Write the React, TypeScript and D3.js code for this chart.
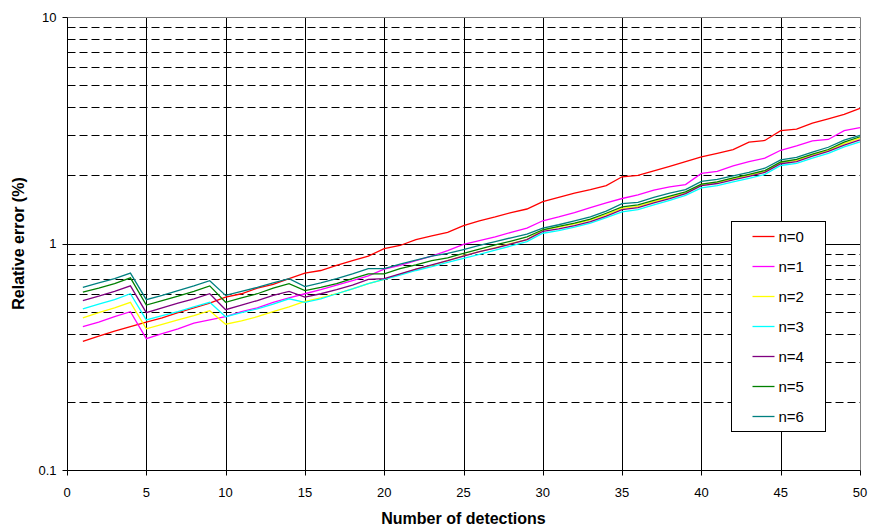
import React, { useRef, useEffect } from "react";
import * as d3 from "d3";

// number of detections on the x axis
const detections = [
  1, 2, 3, 4, 5, 6, 7, 8, 9, 10, 11, 12, 13, 14, 15, 16, 17, 18, 19, 20, 21, 22, 23, 24, 25,
  26, 27, 28, 29, 30, 31, 32, 33, 34, 35, 36, 37, 38, 39, 40, 41, 42, 43, 44, 45, 46, 47, 48, 49, 50,
];

const seriesNames = ["n=0", "n=1", "n=2", "n=3", "n=4", "n=5", "n=6"];
const seriesColors = ["#ff0000", "#ff00ff", "#ffff00", "#00ffff", "#800080", "#008000", "#008080"];

const n0 = [
  0.37, 0.39, 0.41, 0.43, 0.45, 0.47, 0.495, 0.52, 0.545, 0.58,
  0.6, 0.635, 0.66, 0.7, 0.74, 0.76, 0.8, 0.84, 0.88, 0.95,
  0.98, 1.04, 1.08, 1.12, 1.2, 1.26, 1.31, 1.37, 1.42, 1.53,
  1.6, 1.67, 1.73, 1.8, 1.97, 2.0, 2.09, 2.19, 2.3, 2.41,
  2.5, 2.6, 2.8, 2.85, 3.15, 3.2, 3.4, 3.55, 3.72, 3.95,
];
const n1 = [
  0.43, 0.45, 0.475, 0.5, 0.38, 0.4, 0.42, 0.445, 0.46, 0.475,
  0.5, 0.52, 0.55, 0.575, 0.6, 0.625, 0.655, 0.685, 0.72, 0.77,
  0.8, 0.84, 0.88, 0.93, 0.99, 1.03, 1.07, 1.12, 1.17, 1.26,
  1.31, 1.37, 1.44, 1.51, 1.58, 1.64, 1.72, 1.78, 1.82, 2.04,
  2.08, 2.2, 2.3, 2.38, 2.58, 2.7, 2.84, 2.88, 3.15, 3.25,
];
const n2 = [
  0.47, 0.495, 0.52, 0.55, 0.42, 0.44, 0.46, 0.48, 0.505, 0.44,
  0.455, 0.475, 0.5, 0.525, 0.555, 0.575, 0.6, 0.63, 0.665, 0.695,
  0.73, 0.77, 0.8, 0.84, 0.885, 0.92, 0.96, 1.0, 1.04, 1.15,
  1.18, 1.22, 1.27, 1.34, 1.43, 1.46, 1.53, 1.6, 1.67, 1.82,
  1.86, 1.93, 2.0, 2.08, 2.28, 2.33, 2.46, 2.58, 2.76, 2.92,
];
const n3 = [
  0.515, 0.54, 0.565, 0.6, 0.46, 0.48, 0.5, 0.525, 0.55, 0.475,
  0.495, 0.515, 0.54, 0.57, 0.55, 0.57, 0.6, 0.63, 0.665, 0.695,
  0.725, 0.76, 0.79, 0.825, 0.86, 0.895, 0.935, 0.975, 1.02, 1.11,
  1.14, 1.18, 1.23, 1.3, 1.38, 1.41, 1.48, 1.55, 1.63, 1.76,
  1.8, 1.87, 1.94, 2.02, 2.21, 2.26, 2.38, 2.5, 2.67, 2.81,
];
const n4 = [
  0.56, 0.585, 0.615, 0.65, 0.495, 0.52, 0.545, 0.57, 0.6, 0.51,
  0.535, 0.56, 0.59, 0.615, 0.58, 0.6, 0.625, 0.655, 0.695, 0.7,
  0.735, 0.77, 0.805, 0.84, 0.88, 0.92, 0.955, 0.995, 1.04, 1.13,
  1.16, 1.2, 1.25, 1.32, 1.41, 1.44, 1.51, 1.58, 1.66, 1.8,
  1.84, 1.91, 1.98, 2.06, 2.25, 2.3, 2.43, 2.55, 2.72, 2.87,
];
const n5 = [
  0.61, 0.635, 0.665, 0.705, 0.535, 0.56, 0.585, 0.615, 0.65, 0.55,
  0.575, 0.6, 0.635, 0.665, 0.62, 0.64, 0.665, 0.7, 0.735, 0.735,
  0.775, 0.805, 0.84, 0.865, 0.905, 0.945, 0.985, 1.025, 1.07, 1.15,
  1.19, 1.23, 1.28, 1.36, 1.45, 1.48, 1.55, 1.62, 1.69, 1.83,
  1.87, 1.95, 2.02, 2.1, 2.29, 2.35, 2.48, 2.6, 2.8, 2.96,
];
const n6 = [
  0.64, 0.67, 0.7, 0.74, 0.565, 0.59, 0.62, 0.65, 0.685, 0.59,
  0.615, 0.64, 0.67, 0.7, 0.645, 0.67, 0.7, 0.735, 0.775, 0.775,
  0.81, 0.845, 0.88, 0.905, 0.94, 0.98, 1.02, 1.06, 1.1, 1.17,
  1.21, 1.26, 1.31, 1.39, 1.5, 1.52, 1.6, 1.67, 1.73, 1.88,
  1.92, 1.99, 2.06, 2.15, 2.34, 2.4, 2.53, 2.66, 2.86, 3.0,
];
const seriesValues = [n0, n1, n2, n3, n4, n5, n6];

const xTicks = [0, 5, 10, 15, 20, 25, 30, 35, 40, 45, 50];
const yTicks = [0.1, 1, 10];
const yMinor = [0.2, 0.3, 0.4, 0.5, 0.6, 0.7, 0.8, 0.9, 2, 3, 4, 5, 6, 7, 8, 9];

const font = "'Liberation Sans', Arial, sans-serif";

export default function App() {
  const svgRef = useRef<SVGSVGElement>(null);

  useEffect(() => {
    const width = 871;
    const height = 529;
    const margin = { top: 17, right: 11, bottom: 59, left: 67 };

    const svg = d3.select(svgRef.current);
    svg.selectAll("*").remove();

    const x = d3.scaleLinear([0, 50], [margin.left, width - margin.right]);
    const y = d3.scaleLog([0.1, 10], [height - margin.bottom, margin.top]);
    const px = (v: number) => Math.round(v) + 0.5;

    const top = px(y(10));
    const bottom = px(y(0.1));
    const left = px(x(0));
    const right = px(x(50));

    // minor dashed gridlines
    svg.append("g")
      .selectAll("line")
      .data(yMinor)
      .join("line")
      .attr("x1", left)
      .attr("x2", right)
      .attr("y1", (d) => px(y(d)))
      .attr("y2", (d) => px(y(d)))
      .attr("stroke", "#000")
      .attr("stroke-dasharray", "8,4")
      .attr("stroke-width", 1);

    // vertical gridlines
    svg.append("g")
      .selectAll("line")
      .data(xTicks.filter((d) => d > 0 && d < 50))
      .join("line")
      .attr("x1", (d) => px(x(d)))
      .attr("x2", (d) => px(x(d)))
      .attr("y1", top)
      .attr("y2", bottom)
      .attr("stroke", "#000");

    // major gridline at 1
    svg.append("line")
      .attr("x1", left).attr("x2", right)
      .attr("y1", px(y(1))).attr("y2", px(y(1)))
      .attr("stroke", "#000");

    // plot border: top + right grey
    svg.append("path")
      .attr("d", `M${left},${top}H${right}V${bottom}`)
      .attr("fill", "none")
      .attr("stroke", "#808080");

    // axes
    svg.append("line")
      .attr("x1", left).attr("x2", left)
      .attr("y1", top).attr("y2", bottom)
      .attr("stroke", "#000");
    svg.append("line")
      .attr("x1", left).attr("x2", right)
      .attr("y1", bottom).attr("y2", bottom)
      .attr("stroke", "#000");

    // y ticks
    const yt = svg.append("g");
    yt.selectAll("line")
      .data(yTicks)
      .join("line")
      .attr("x1", left - 5).attr("x2", left)
      .attr("y1", (d) => px(y(d))).attr("y2", (d) => px(y(d)))
      .attr("stroke", "#000");
    yt.selectAll("text")
      .data(yTicks)
      .join("text")
      .attr("x", left - 11)
      .attr("y", (d) => y(d))
      .attr("dy", "0.35em")
      .attr("text-anchor", "end")
      .attr("font-family", font)
      .attr("font-size", 13)
      .text((d) => String(d));

    // x ticks
    const xt = svg.append("g");
    xt.selectAll("line")
      .data(xTicks)
      .join("line")
      .attr("x1", (d) => px(x(d))).attr("x2", (d) => px(x(d)))
      .attr("y1", bottom).attr("y2", bottom + 5)
      .attr("stroke", "#000");
    xt.selectAll("text")
      .data(xTicks)
      .join("text")
      .attr("x", (d) => x(d))
      .attr("y", bottom + 26)
      .attr("text-anchor", "middle")
      .attr("font-family", font)
      .attr("font-size", 13)
      .text((d) => String(d));

    // axis titles
    svg.append("text")
      .attr("x", (x(0) + x(50)) / 2)
      .attr("y", 524)
      .attr("text-anchor", "middle")
      .attr("font-family", font)
      .attr("font-size", 16)
      .attr("font-weight", "bold")
      .text("Number of detections");
    svg.append("text")
      .attr("transform", `translate(24,${y(1)}) rotate(-90)`)
      .attr("text-anchor", "middle")
      .attr("font-family", font)
      .attr("font-size", 16)
      .attr("font-weight", "bold")
      .text("Relative error (%)");

    // series lines
    const line = d3.line<number>()
      .x((_, i) => x(detections[i]))
      .y((d) => y(d));
    svg.append("g")
      .selectAll("path")
      .data(seriesValues)
      .join("path")
      .attr("d", (d) => line(d))
      .attr("fill", "none")
      .attr("stroke", (_, i) => seriesColors[i])
      .attr("stroke-width", 1.3);

    // legend
    const legend = svg.append("g").attr("transform", "translate(731.5,221.5)");
    legend.append("rect")
      .attr("width", 94)
      .attr("height", 210)
      .attr("fill", "#fff")
      .attr("stroke", "#000");
    const items = legend.selectAll("g.item")
      .data(seriesNames)
      .join("g")
      .attr("class", "item")
      .attr("transform", (_, i) => `translate(0,${15 + i * 30})`);
    items.append("line")
      .attr("x1", 21).attr("x2", 43)
      .attr("stroke", (_, i) => seriesColors[i])
      .attr("stroke-width", 1.3);
    items.append("text")
      .attr("x", 47)
      .attr("dy", "0.36em")
      .attr("font-family", font)
      .attr("font-size", 15)
      .text((d) => d);
  }, []);

  return (
    <svg
      ref={svgRef}
      width={871}
      height={529}
      style={{ position: "absolute", left: 0, top: 0, background: "#fff" }}
    />
  );
}
